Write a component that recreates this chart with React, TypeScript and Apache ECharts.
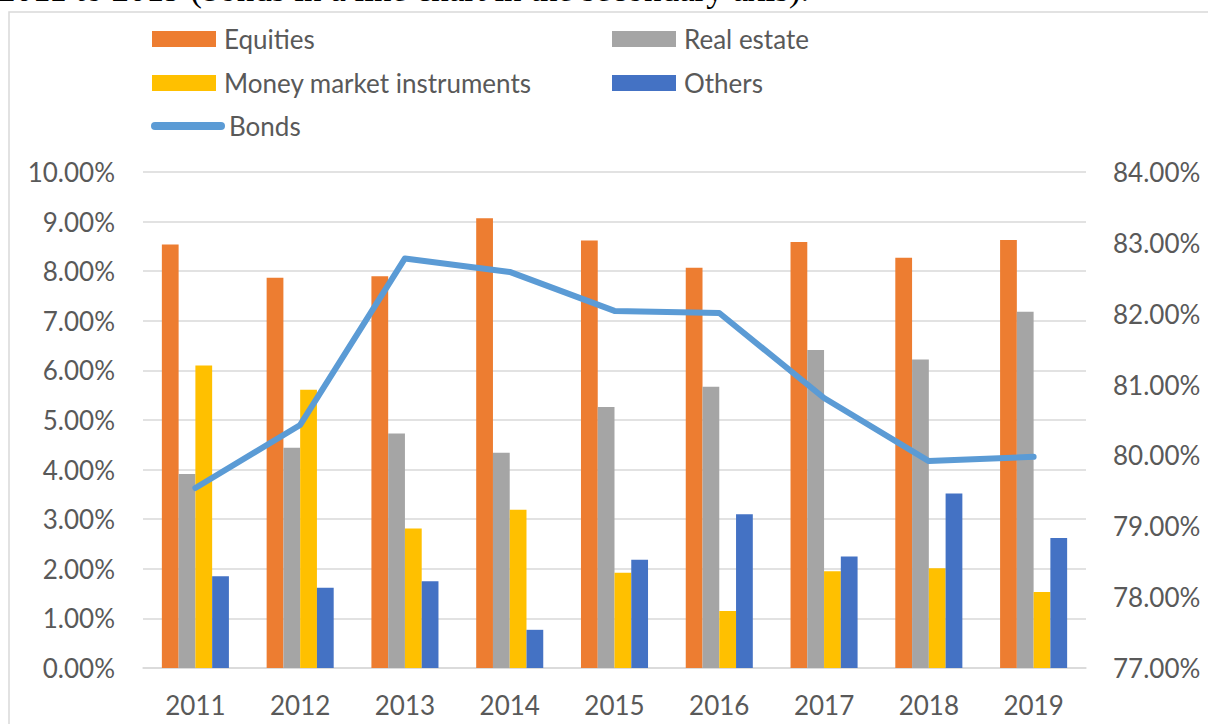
import React, { useEffect, useRef } from "react";
import * as echarts from "echarts";

const years = ["2011", "2012", "2013", "2014", "2015", "2016", "2017", "2018", "2019"];
const equities = [8.54, 7.87, 7.9, 9.07, 8.62, 8.07, 8.59, 8.27, 8.63];
const realEstate = [3.91, 4.44, 4.73, 4.34, 5.26, 5.67, 6.41, 6.22, 7.18];
const moneyMarket = [6.1, 5.61, 2.81, 3.19, 1.92, 1.15, 1.95, 2.01, 1.53];
const others = [1.85, 1.62, 1.75, 0.77, 2.18, 3.1, 2.25, 3.52, 2.62];
const bonds = [79.54, 80.43, 82.78, 82.59, 82.04, 82.01, 80.81, 79.92, 79.98];

const FONT = "Lato";
const GREY = "#595959";

export default function App() {
  const ref = useRef<HTMLDivElement>(null);
  useEffect(() => {
    if (!ref.current) return;
    const chart = echarts.init(ref.current, null, { renderer: "svg" });
    const legendBase = {
      orient: "horizontal" as const,
      itemWidth: 64,
      itemHeight: 16,
      icon: "rect",
      padding: 0,
      textStyle: { fontFamily: FONT, fontSize: 26, color: GREY, padding: [0, 0, 0, 3] },
    };
    chart.setOption({
      animation: false,
      backgroundColor: "#ffffff",
      textStyle: { fontFamily: FONT },
      graphic: [
        {
          type: "text",
          left: -2,
          top: -28,
          style: {
            text: "2011 to 2019 (bonds in a line chart in the secondary axis).",
            fontFamily: "Liberation Serif",
            fontSize: 35,
            fill: "#000",
          },
        },
        {
          type: "rect",
          shape: { x: 9, y: 12, width: 1220, height: 730 },
          style: { fill: "none", stroke: "#d9d9d9", lineWidth: 1.5 },
          silent: true,
        },
      ],
      legend: [
        { ...legendBase, left: 152, top: 26, data: ["Equities"] },
        { ...legendBase, left: 612, top: 26, data: ["Real estate"] },
        { ...legendBase, left: 152, top: 70, data: ["Money market instruments"] },
        { ...legendBase, left: 612, top: 70, data: ["Others"] },
        {
          ...legendBase,
          icon: undefined,
          itemWidth: 66,
          left: 151,
          top: 113,
          data: ["Bonds"],
          itemStyle: { opacity: 0 },
          lineStyle: { width: 8, cap: "round" },
        },
      ],
      grid: { left: 143, right: 122, top: 172, bottom: 56, containLabel: false },
      xAxis: {
        type: "category",
        data: years,
        axisLine: { lineStyle: { color: "#d9d9d9", width: 1.5 } },
        axisTick: { show: false },
        axisLabel: { fontFamily: FONT, fontSize: 26, color: GREY, margin: 24 },
      },
      yAxis: [
        {
          type: "value",
          min: 0,
          max: 10,
          interval: 1,
          axisLine: { show: false },
          axisTick: { show: false },
          splitLine: { lineStyle: { color: "#d9d9d9", width: 1.5 } },
          axisLabel: {
            fontFamily: FONT,
            fontSize: 26,
            color: GREY,
            margin: 28,
            formatter: (v: number) => v.toFixed(2) + "%",
          },
        },
        {
          type: "value",
          min: 77,
          max: 84,
          interval: 1,
          position: "right",
          axisLine: { show: false },
          axisTick: { show: false },
          splitLine: { show: false },
          axisLabel: {
            fontFamily: FONT,
            fontSize: 26,
            color: GREY,
            margin: 27,
            formatter: (v: number) => v.toFixed(2) + "%",
          },
        },
      ],
      series: [
        { name: "Equities", type: "bar", data: equities, itemStyle: { color: "#ED7D31" }, barGap: "0%", barCategoryGap: "36%" },
        { name: "Real estate", type: "bar", data: realEstate, itemStyle: { color: "#A5A5A5" } },
        { name: "Money market instruments", type: "bar", data: moneyMarket, itemStyle: { color: "#FFC000" } },
        { name: "Others", type: "bar", data: others, itemStyle: { color: "#4472C4" } },
        {
          name: "Bonds",
          type: "line",
          yAxisIndex: 1,
          data: bonds,
          symbol: "none",
          showSymbol: false,
          lineStyle: { color: "#5B9BD5", width: 6, cap: "round", join: "round" },
          itemStyle: { color: "#5B9BD5" },
          z: 5,
        },
      ],
    });
    return () => chart.dispose();
  }, []);
  return (
    <div
      ref={ref}
      style={{ position: "fixed", left: 0, top: 0, width: 1208, height: 724, background: "#fff" }}
    />
  );
}
